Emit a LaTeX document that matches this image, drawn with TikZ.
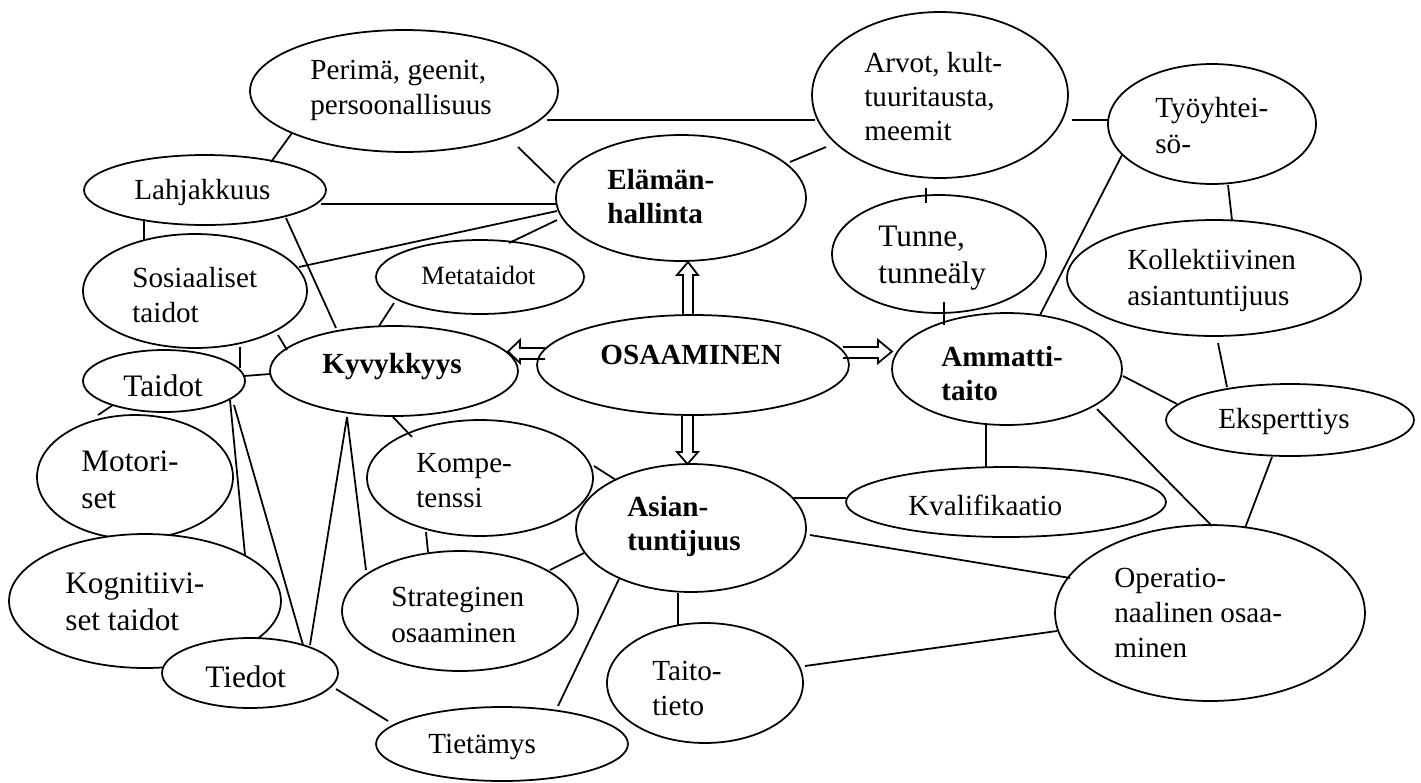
\documentclass[tikz,border=0pt]{standalone}
\usepackage{fontspec}
\setmainfont{Liberation Serif}
\usetikzlibrary{shapes.geometric}
\begin{document}
\begin{tikzpicture}[x=0.02cm, y=-0.02cm,
  oval/.style={draw, ellipse, fill=white, line width=1pt, inner sep=0pt, outer sep=0pt},
  lbl/.style={anchor=west, align=left, inner sep=0pt, font=\fontsize{16.6}{20}\selectfont},
  lblbig/.style={lbl, font=\fontsize{17.8}{21}\selectfont},
  lblsmall/.style={lbl, font=\fontsize{15}{18}\selectfont},
  lblbold/.style={lbl, font=\fontsize{16.6}{19}\selectfont\bfseries},
  link/.style={line width=1pt},
  blk/.style={draw, line width=1pt, line join=miter}]
\useasboundingbox (0,0) rectangle (1421,782);

% ---- concept ellipses (later ones overlap earlier ones) ----
\node[oval, minimum width=6.16cm, minimum height=2.44cm] (per) at (404,91) {};
\node[oval, minimum width=4.84cm, minimum height=1.40cm] (lah) at (205,190) {};
\node[oval, minimum width=4.48cm, minimum height=2.28cm] (sos) at (195,291) {};
\node[oval, minimum width=4.16cm, minimum height=1.48cm] (met) at (480,277) {};
\node[oval, minimum width=4.96cm, minimum height=1.80cm] (kyv) at (394,371) {};
\node[oval, minimum width=3.24cm, minimum height=1.24cm] (tai) at (164,381) {};
\node[oval, minimum width=3.92cm, minimum height=2.48cm] (mot) at (135,477) {};
\node[oval, minimum width=5.44cm, minimum height=2.68cm] (kog) at (145,601) {};
\node[oval, minimum width=3.52cm, minimum height=1.40cm] (tie) at (250,673) {};
\node[oval, minimum width=4.52cm, minimum height=2.32cm] (kom) at (480,478) {};
\node[oval, minimum width=4.72cm, minimum height=2.40cm] (str) at (460,611) {};
\node[oval, minimum width=5.04cm, minimum height=1.48cm] (tim) at (502,744) {};
\node[oval, minimum width=5.00cm, minimum height=2.52cm] (ela) at (681,198) {};
\node[oval, minimum width=6.24cm, minimum height=2.00cm] (osa) at (693,365) {};
\node[oval, minimum width=4.60cm, minimum height=2.56cm] (asi) at (691,528) {};
\node[oval, minimum width=3.92cm, minimum height=2.40cm] (tat) at (705,683) {};
\node[oval, minimum width=5.12cm, minimum height=3.32cm] (arv) at (940,95) {};
\node[oval, minimum width=4.28cm, minimum height=2.36cm] (tun) at (939,254) {};
\node[oval, minimum width=4.60cm, minimum height=2.24cm] (amm) at (1007,369) {};
\node[oval, minimum width=6.40cm, minimum height=1.40cm] (kva) at (1006,502) {};
\node[oval, minimum width=4.16cm, minimum height=2.40cm] (tyo) at (1212,124) {};
\node[oval, minimum width=5.88cm, minimum height=2.32cm] (kol) at (1214,278) {};
\node[oval, minimum width=4.96cm, minimum height=1.44cm] (eks) at (1290,420) {};
\node[oval, minimum width=6.20cm, minimum height=3.52cm] (ope) at (1210,613) {};

% ---- connecting lines ----
\draw[link] ([shift={(-112,42)}]per.center) -- ([shift={(66,-28)}]lah.center);
\draw[link] ([shift={(114,56)}]per.center) -- ([shift={(-126,-15)}]ela.center);
\draw[link] ([shift={(143,29)}]per.center) -- ([shift={(-125,25)}]arv.center);
\draw[link] ([shift={(116,14)}]lah.center) -- ([shift={(-124,6)}]ela.center);
\draw[link] ([shift={(-61,29)}]lah.center) -- ([shift={(-51,-50)}]sos.center);
\draw[link] ([shift={(81,28)}]lah.center) -- ([shift={(-58,-43)}]kyv.center);
\draw[link] ([shift={(104,-24)}]sos.center) -- ([shift={(-124,13)}]ela.center);
\draw[link] ([shift={(29,-34)}]met.center) -- ([shift={(-124,22)}]ela.center);
\draw[link] ([shift={(83,44)}]sos.center) -- ([shift={(-107,-21)}]kyv.center);
\draw[link] ([shift={(45,56)}]sos.center) -- ([shift={(76,-13)}]tai.center);
\draw[link] ([shift={(80,-5)}]tai.center) -- ([shift={(-124,3)}]kyv.center);
\draw[link] ([shift={(-86,26)}]met.center) -- ([shift={(-15,-45)}]kyv.center);
\draw[link] ([shift={(-51,24)}]tai.center) -- ([shift={(-37,-62)}]mot.center);
\draw[link] ([shift={(66,19)}]tai.center) -- ([shift={(100,-46)}]kog.center);
\draw[link] ([shift={(70,24)}]tai.center) -- ([shift={(53,-28)}]tie.center);
\draw[link] ([shift={(-47,46)}]kyv.center) -- ([shift={(60,-28)}]tie.center);
\draw[link] ([shift={(-47,46)}]kyv.center) -- ([shift={(-94,-41)}]str.center);
\draw[link] ([shift={(-1,46)}]kyv.center) -- ([shift={(-68,-41)}]kom.center);
\draw[link] ([shift={(-54,54)}]kom.center) -- ([shift={(-32,-59)}]str.center);
\draw[link] ([shift={(114,-12)}]kom.center) -- ([shift={(-75,-48)}]asi.center);
\draw[link] ([shift={(90,-41)}]str.center) -- ([shift={(-107,25)}]asi.center);
\draw[link] ([shift={(86,16)}]tie.center) -- ([shift={(-114,-23)}]tim.center);
\draw[link] ([shift={(-72,51)}]asi.center) -- ([shift={(56,-38)}]tim.center);
\draw[link] ([shift={(-13,65)}]asi.center) -- ([shift={(-27,-57)}]tat.center);
\draw[link] ([shift={(102,-30)}]asi.center) -- ([shift={(-160,-4)}]kva.center);
\draw[link] ([shift={(119,7)}]asi.center) -- ([shift={(-140,-35)}]ope.center);
\draw[link] ([shift={(100,-17)}]tat.center) -- ([shift={(-153,18)}]ope.center);
\draw[link] ([shift={(-114,52)}]arv.center) -- ([shift={(109,-36)}]ela.center);
\draw[link] ([shift={(132,25)}]arv.center) -- ([shift={(-104,-4)}]tyo.center);
\draw[link] ([shift={(-14,93)}]arv.center) -- ([shift={(-13,-51)}]tun.center);
\draw[link] ([shift={(5,48)}]tun.center) -- ([shift={(-63,-44)}]amm.center);
\draw[link] ([shift={(-90,31)}]tyo.center) -- ([shift={(33,-54)}]amm.center);
\draw[link] ([shift={(16,61)}]tyo.center) -- ([shift={(18,-58)}]kol.center);
\draw[link] ([shift={(4,65)}]kol.center) -- ([shift={(-63,-33)}]eks.center);
\draw[link] ([shift={(116,7)}]amm.center) -- ([shift={(-113,-16)}]eks.center);
\draw[link] ([shift={(90,40)}]amm.center) -- ([shift={(2,-87)}]ope.center);
\draw[link] ([shift={(-21,56)}]amm.center) -- ([shift={(-20,-35)}]kva.center);
\draw[link] ([shift={(-18,37)}]eks.center) -- ([shift={(35,-85)}]ope.center);

% ---- hollow block arrows out of OSAAMINEN ----
\draw[blk] ([shift={(-10,-50)}]osa.center) -- ++(0,-40) -- ++(-6,0) -- ++(11,-13)
  -- ++(10,13) -- ++(-5,0) -- ++(0,40);
\draw[blk] ([shift={(-11,51)}]osa.center) -- ++(0,36) -- ++(-5,0) -- ++(10.5,12)
  -- ++(10.5,-12) -- ++(-5,0) -- ++(0,-36);
\draw[blk] ([shift={(-148,-17)}]osa.center) -- ++(-25,0) -- ++(0,-8) -- ++(-12,11.5)
  -- ++(12,11.5) -- ++(0,-4) -- ++(25,0);
\draw[blk] ([shift={(150,-18)}]osa.center) -- ++(35,0) -- ++(0,-7) -- ++(14,11.5)
  -- ++(-14,11.5) -- ++(0,-5) -- ++(-35,0);

% ---- labels ----
\node[lbl] (perT) at (310,90.5) {Perimä, geenit,\\persoonallisuus};
\node[lbl] (lahT) at (134,192) {Lahjakkuus};
\node[lbl] (sosT) at (132,295) {Sosiaaliset\\taidot};
\node[lblsmall] (metT) at (421,275) {Metataidot};
\node[lblbold] (kyvT) at (322,367) {Kyvykkyys};
\node[lblbig] (taiT) at (123,386) {Taidot};
\node[lblbig] (motT) at (81,480) {Motori-\\set};
\node[lblbig] (kogT) at (65,601.5) {Kognitiivi-\\set taidot};
\node[lblbig] (tieT) at (205,677) {Tiedot};
\node[lbl] (komT) at (416,480.5) {Kompe-\\tenssi};
\node[lbl] (strT) at (391,615) {Strateginen\\osaaminen};
\node[lbl] (timT) at (428,747) {Tietämys};
\node[lblbold] (elaT) at (607,196.5) {Elämän-\\hallinta};
\node[lblbold] (osaT) at (600,355) {OSAAMINEN};
\node[lblbold] (asiT) at (627,526.5) {Asian-\\tuntijuus};
\node[lbl] (tatT) at (652,688.5) {Taito-\\tieto};
\node[lbl, font=\fontsize{16.6}{19.2}\selectfont] (arvT) at (864,96.5) {Arvot, kult-\\tuuritausta,\\meemit};
\node[lblbig] (tunT) at (878,258.5) {Tunne,\\tunneäly};
\node[lblbold] (ammT) at (941,373.5) {Ammatti-\\taito};
\node[lbl] (kvaT) at (908,505) {Kvalifikaatio};
\node[lbl] (tyoT) at (1155,125.5) {Työyhtei-\\sö-};
\node[lbl] (kolT) at (1127,280.5) {Kollektiivinen\\asiantuntijuus};
\node[lbl] (eksT) at (1218,422) {Eksperttiys};
\node[lbl] (opeT) at (1114,613) {Operatio-\\naalinen osaa-\\minen};
\end{tikzpicture}
\end{document}
